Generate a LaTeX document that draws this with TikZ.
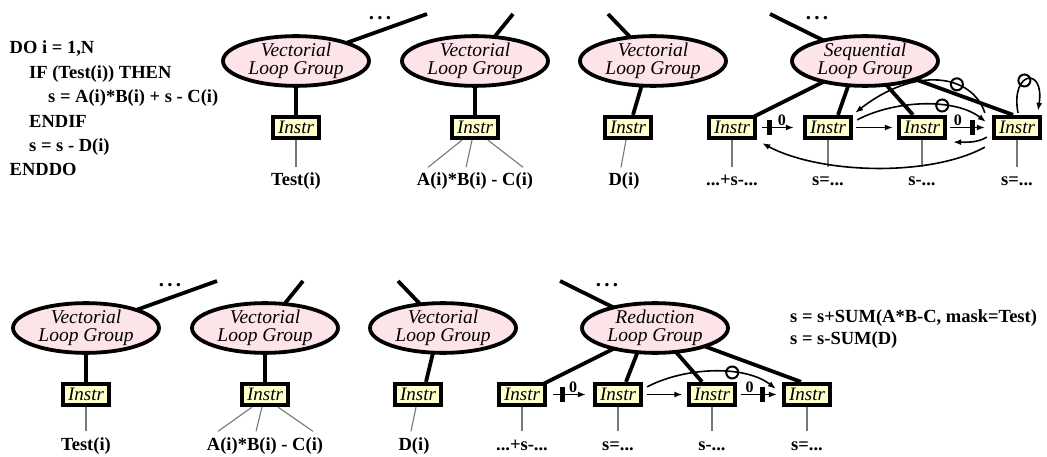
\documentclass[tikz,border=0pt]{standalone}
\usepackage{fontspec}
\setmainfont{Liberation Serif}
\usetikzlibrary{shapes.geometric,arrows.meta,backgrounds}
\definecolor{grpfill}{RGB}{253,228,232}
\definecolor{insfill}{RGB}{255,255,204}
\definecolor{leadgray}{RGB}{120,120,120}
\tikzset{
  grp/.style={ellipse, draw=black, line width=3.8pt, fill=grpfill, minimum width=146pt,
    minimum height=46pt, inner sep=0pt, align=center, font=\fontsize{19.5}{17.5}\selectfont\itshape},
  instr/.style={rectangle, draw=black, line width=3.8pt, fill=insfill, minimum width=46.5pt,
    minimum height=21.5pt, inner sep=0pt, font=\fontsize{19}{19}\selectfont\itshape},
  lbl/.style={anchor=base, font=\fontsize{18.5}{18.5}\selectfont\bfseries, text height=13pt, inner sep=5.5pt},
  codeline/.style={anchor=base west, font=\fontsize{18.5}{18.5}\selectfont\bfseries, inner sep=0pt},
  dots/.style={anchor=base, font=\fontsize{21}{21}\selectfont\bfseries, inner sep=0pt,
    text height=4pt, text depth=0pt},
  tree/.style={line width=3.8pt},
  lead/.style={draw=leadgray, line width=1.1pt},
  dep/.style={line width=1.6pt, -{Latex[length=8pt,width=6pt]}},
  cut/.style={rectangle, fill=black, minimum width=5pt, minimum height=15pt, inner sep=0pt},
  dist/.style={font=\fontsize{16}{16}\selectfont\bfseries, inner sep=1pt},
  outdep/.style={circle, draw=black, line width=2pt, minimum size=12pt, inner sep=0pt},
}
\newcommand{\threedots}{.\kern3.2pt.\kern3.2pt.}
\begin{document}
\begin{tikzpicture}[x=1pt,y=1pt]
\useasboundingbox (0,0) rectangle (1047,456);

% ---------- source loop ----------
\node[codeline] (c1) at (9.5,402)   {DO i = 1,N};
\node[codeline] (c2) at (29,377.6)  {IF (Test(i)) THEN};
\node[codeline] (c3) at (48,353.2)  {s = A(i)*B(i) + s - C(i)};
\node[codeline] (c4) at (29,328.8)  {ENDIF};
\node[codeline] (c5) at (29,304.4)  {s = s - D(i)};
\node[codeline] (c6) at (9.5,280)   {ENDDO};

% ---------- upper tree ----------
\node[grp] (E1) at (296,395) {Vectorial\\Loop Group};
\node[grp] (E2) at (475,395) {Vectorial\\Loop Group};
\node[grp] (E3) at (653,395) {Vectorial\\Loop Group};
\node[grp] (E4) at (865,395) {Sequential\\Loop Group};

\node[instr] (X1) at (296,328.5) {Instr};
\node[instr] (X2) at (475,328.5) {Instr};
\node[instr] (X3) at (628,328.5) {Instr};
\node[instr] (B1) at (732,328.5) {Instr};
\node[instr] (B2) at (828,328.5) {Instr};
\node[instr] (B3) at (922,328.5) {Instr};
\node[instr] (B4) at (1017,328.5) {Instr};

\node[lbl] (L1) at (296,270) {Test(i)};
\node[lbl] (L2) at (475,270) {A(i)*B(i) - C(i)};
\node[lbl] (L3) at (624,270) {D(i)};
\node[lbl] (M1) at (732,270) {...+s-...};
\node[lbl] (M2) at (828,270) {s=...};
\node[lbl] (M3) at (922,270) {s-...};
\node[lbl] (M4) at (1017,270) {s=...};

\node[dots] (D1) at (380,436) {\threedots};
\node[dots] (D2) at (817,436) {\threedots};
\coordinate (T1) at (427,442);
\coordinate (T2) at (513,442);
\coordinate (T3) at (608,442);
\coordinate (T4) at (770,442);

% ---------- lower tree ----------
\node[grp] (F1) at (86,128)  {Vectorial\\Loop Group};
\node[grp] (F2) at (265,128) {Vectorial\\Loop Group};
\node[grp] (F3) at (443,128) {Vectorial\\Loop Group};
\node[grp] (F4) at (655,128) {Reduction\\Loop Group};

\node[instr] (Y1) at (86,61.5)  {Instr};
\node[instr] (Y2) at (265,61.5) {Instr};
\node[instr] (Y3) at (418,61.5) {Instr};
\node[instr] (R1) at (522,61.5) {Instr};
\node[instr] (R2) at (618,61.5) {Instr};
\node[instr] (R3) at (712,61.5) {Instr};
\node[instr] (R4) at (807,61.5) {Instr};

\node[lbl] (K1) at (86,6)  {Test(i)};
\node[lbl] (K2) at (265,6) {A(i)*B(i) - C(i)};
\node[lbl] (K3) at (414,6) {D(i)};
\node[lbl] (N1) at (522,6) {...+s-...};
\node[lbl] (N2) at (618,6) {s=...};
\node[lbl] (N3) at (712,6) {s-...};
\node[lbl] (N4) at (807,6) {s=...};

\node[dots] (D3) at (170,170) {\threedots};
\node[dots] (D4) at (607,170) {\threedots};
\coordinate (U1) at (217,175);
\coordinate (U2) at (303,175);
\coordinate (U3) at (398,175);
\coordinate (U4) at (560,175);

\node[codeline] (r1) at (790,134) {s = s+SUM(A*B-C, mask=Test)};
\node[codeline] (r2) at (790,112) {s = s-SUM(D)};

% ---------- thick tree edges, behind the nodes ----------
\begin{pgfonlayer}{background}
  \fill[white] (0,0) rectangle (1047,456);
  \draw[tree] (T1) -- (E1.center);
  \draw[tree] (T2) -- (E2.center);
  \draw[tree] (T3) -- (E3.center);
  \draw[tree] (T4) -- (E4.center);
  \draw[tree] (E1.center) -- (X1.north);
  \draw[tree] (E2.center) -- (X2.north);
  \draw[tree] ([xshift=-4pt]E3.center) -- ([xshift=5pt]X3.north);
  \draw[tree] (E4.center) -- (B1.center);
  \draw[tree] ([xshift=-8pt]E4.center) -- ([xshift=10pt]B2.north);
  \draw[tree] (E4.center) -- ([xshift=-9pt]B3.north);
  \draw[tree] (E4.center) -- ([xshift=-4pt]B4.north);

  \draw[tree] (U1) -- (F1.center);
  \draw[tree] (U2) -- (F2.center);
  \draw[tree] (U3) -- (F3.center);
  \draw[tree] (U4) -- (F4.center);
  \draw[tree] (F1.center) -- (Y1.north);
  \draw[tree] (F2.center) -- (Y2.north);
  \draw[tree] ([xshift=-4pt]F3.center) -- ([xshift=8pt]Y3.north);
  \draw[tree] (F4.center) -- (R1.center);
  \draw[tree] ([xshift=-8pt]F4.center) -- ([xshift=8pt]R2.north);
  \draw[tree] (F4.center) -- ([xshift=-10pt]R3.north);
  \draw[tree] (F4.center) -- ([xshift=-6pt]R4.north);
\end{pgfonlayer}

% ---------- leaders to the expressions ----------
\draw[lead] (X1.south) -- (L1.north);
\draw[lead] ([xshift=-13pt]X2.south) -- ([xshift=-47pt]L2.north);
\draw[lead] ([xshift=-3pt]X2.south) -- ([xshift=-9pt]L2.north);
\draw[lead] ([xshift=13pt]X2.south) -- ([xshift=48pt]L2.north);
\draw[lead] ([xshift=-2pt]X3.south) -- ([xshift=-3pt]L3.north);
\draw[lead] (B1.south) -- (M1.north);
\draw[lead] (B2.south) -- (M2.north);
\draw[lead] (B3.south) -- (M3.north);
\draw[lead] (B4.south) -- (M4.north);

\draw[lead] (Y1.south) -- (K1.north);
\draw[lead] ([xshift=-13pt]Y2.south) -- ([xshift=-47pt]K2.north);
\draw[lead] ([xshift=-3pt]Y2.south) -- ([xshift=-9pt]K2.north);
\draw[lead] ([xshift=13pt]Y2.south) -- ([xshift=48pt]K2.north);
\draw[lead] ([xshift=-2pt]Y3.south) -- ([xshift=-3pt]K3.north);
\draw[lead] (R1.south) -- (N1.north);
\draw[lead] (R2.south) -- (N2.north);
\draw[lead] (R3.south) -- (N3.north);
\draw[lead] (R4.south) -- (N4.north);

% ---------- dependences, sequential group ----------
\draw[dep, shorten <=5pt, shorten >=9pt] (B1.east) -- (B2.west)
  node[cut, pos=0.28] {} node[dist, pos=0.54, above] {0};
\draw[dep, shorten <=3pt, shorten >=4pt] (B2.east) -- (B3.west);
\draw[dep, shorten <=3pt, shorten >=7pt] (B3.east) -- (B4.west)
  node[cut, pos=0.56] {} node[dist, pos=0.24, above] {0};
\draw[dep] ([shift={(-5,3)}]B4.south west) .. controls +(-10,-6) and +(12,0) .. ([shift={(6,-2)}]B3.south east);
\draw[dep] ([shift={(-7,-7)}]B4.south west) .. controls +(-55,-30) and +(58,-31) .. ([shift={(5,-3)}]B1.south east);
\draw[dep] ([shift={(4,-5)}]B2.north east) .. controls +(38,20) and +(-31,24) .. ([shift={(-6,-7)}]B4.north west)
  node[outdep, pos=0.63] {};
\draw[dep] ([shift={(-7,2)}]B4.north west) .. controls +(-13,39) and +(60,47) .. ([shift={(2,2)}]B2.north east)
  node[outdep, pos=0.35] {};
\draw[dep] ([shift={(1,2)}]B4.north) .. controls +(-8,42) and +(7,45) .. ([shift={(21,4)}]B4.north)
  node[outdep, pos=0.42] {};

% ---------- dependences, reduction group ----------
\draw[dep, shorten <=6pt, shorten >=7pt] (R1.east) -- (R2.west)
  node[cut, pos=0.33] {} node[dist, pos=0.57, above] {0};
\draw[dep, shorten <=4pt, shorten >=4.5pt] (R2.east) -- (R3.west);
\draw[dep, shorten <=3.5pt, shorten >=5pt] (R3.east) -- (R4.west)
  node[cut, pos=0.57] {} node[dist, pos=0.28, above] {0};
\draw[dep] ([shift={(4,-5)}]R2.north east) .. controls +(38,20) and +(-31,24) .. ([shift={(-6,-7)}]R4.north west)
  node[outdep, pos=0.63] {};
\end{tikzpicture}
\end{document}
